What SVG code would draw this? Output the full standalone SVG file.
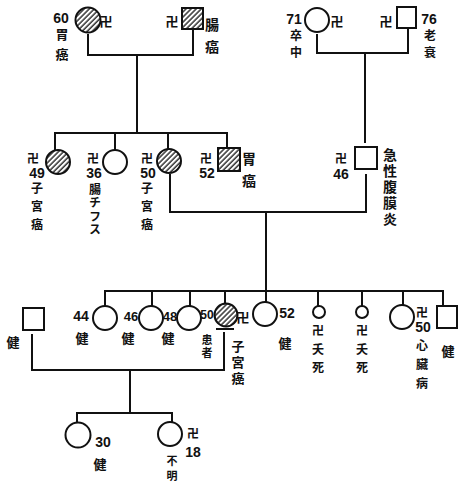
<svg xmlns="http://www.w3.org/2000/svg" width="459" height="485" viewBox="0 0 459 485">
<defs>
<pattern id="hatch" patternUnits="userSpaceOnUse" width="3.6" height="3.6" patternTransform="rotate(45)">
<rect width="3.6" height="3.6" fill="#fff"/>
<line x1="1" y1="0" x2="1" y2="3.6" stroke="#111" stroke-width="1.3"/>
</pattern>
</defs>
<style>
.n{fill:#fff;stroke:#111;stroke-width:2}
.h{fill:url(#hatch);stroke:#111;stroke-width:2}
.c{fill:none;stroke:#111;stroke-width:2;stroke-linecap:square}
text{font-family:"Noto Sans CJK JP","Noto Sans",sans-serif;fill:#111;text-anchor:middle;dominant-baseline:central;font-weight:bold}
.v{writing-mode:vertical-rl;text-anchor:start}
.k{font-size:13px}
.w{font-size:12px}
.d{font-family:"Liberation Sans","DejaVu Sans",sans-serif;font-size:14px}
</style>
<rect width="459" height="485" fill="#fff"/>
<g id="connectors">
<polyline class="c" points="88,35 88,55 193,55 193,30"/>
<line class="c" x1="137" y1="55" x2="137" y2="133"/>
<polyline class="c" points="317,35 317,53 408,53 408,30"/>
<line class="c" x1="365" y1="53" x2="365" y2="142"/>
<line class="c" x1="55" y1="133" x2="227" y2="133"/>
<line class="c" x1="55" y1="133" x2="55" y2="149"/>
<line class="c" x1="115" y1="133" x2="115" y2="149"/>
<line class="c" x1="168" y1="133" x2="168" y2="148"/>
<line class="c" x1="227" y1="133" x2="227" y2="147"/>
<polyline class="c" points="170,175 170,212 366,212 366,175"/>
<line class="c" x1="266" y1="212" x2="266" y2="291"/>
<line class="c" x1="105" y1="291" x2="443" y2="291"/>
<line class="c" x1="105" y1="291" x2="105" y2="305"/>
<line class="c" x1="152" y1="291" x2="152" y2="305"/>
<line class="c" x1="190" y1="291" x2="190" y2="305"/>
<line class="c" x1="225" y1="291" x2="225" y2="303"/>
<line class="c" x1="266" y1="291" x2="266" y2="302"/>
<line class="c" x1="318" y1="291" x2="318" y2="305"/>
<line class="c" x1="362" y1="291" x2="362" y2="305"/>
<line class="c" x1="403" y1="291" x2="403" y2="305"/>
<line class="c" x1="443" y1="291" x2="443" y2="305"/>
<polyline class="c" points="32,335 32,370 224,370 224,333"/>
<line class="c" x1="130" y1="370" x2="130" y2="413"/>
<polyline class="c" points="77,422 77,413 172,413 172,421"/>
</g>
<g id="g1-grandmother-p">
<circle class="h" cx="88" cy="20" r="12.5"/>
<text class="d" x="61" y="18">60</text>
<text class="v k" x="62" y="28" letter-spacing="7">胃癌</text>
<text class="k" x="106" y="20">卍</text>
</g>
<g id="g1-grandfather-p">
<rect class="h" x="182" y="8" width="21" height="21"/>
<text class="k" x="172" y="20">卍</text>
<text class="v" x="212" y="18" style="font-size:14px" letter-spacing="8">腸癌</text>
</g>
<g id="g1-grandmother-m">
<circle class="n" cx="317" cy="20" r="12"/>
<text class="d" x="294" y="19">71</text>
<text class="v w" x="296" y="29" letter-spacing="5">卒中</text>
<text class="k" x="337" y="20">卍</text>
</g>
<g id="g1-grandfather-m">
<rect class="n" x="397" y="7" width="19" height="21"/>
<text class="k" x="386" y="20">卍</text>
<text class="d" x="429" y="19">76</text>
<text class="v w" x="430" y="29" letter-spacing="5">老衰</text>
</g>
<g id="g2-aunt49">
<circle class="h" cx="58" cy="162" r="12"/>
<text class="w" x="33" y="157">卍</text>
<text class="d" x="37" y="173">49</text>
<text class="v w" x="37" y="182" letter-spacing="6">子宮癌</text>
</g>
<g id="g2-aunt36">
<circle class="n" cx="115" cy="162" r="12"/>
<text class="w" x="93" y="157">卍</text>
<text class="d" x="94" y="173">36</text>
<text class="v w" x="95" y="183" letter-spacing="1.5">腸チフス</text>
</g>
<g id="g2-mother50">
<circle class="h" cx="169" cy="161" r="12"/>
<text class="w" x="147" y="157">卍</text>
<text class="d" x="148" y="173">50</text>
<text class="v w" x="147" y="182" letter-spacing="6">子宮癌</text>
</g>
<g id="g2-uncle52">
<rect class="h" x="218" y="148" width="22" height="23"/>
<text class="w" x="206" y="157">卍</text>
<text class="d" x="207" y="173">52</text>
<text class="v" x="249" y="152" style="font-size:14px" letter-spacing="8">胃癌</text>
</g>
<g id="g2-father46">
<rect class="n" x="355" y="147" width="22" height="22"/>
<text class="w" x="341" y="157">卍</text>
<text class="d" x="341" y="174">46</text>
<text class="v" x="390" y="148" style="font-size:14px" letter-spacing="2">急性腹膜炎</text>
</g>
<g id="g3-husband">
<rect class="n" x="23" y="308" width="21" height="22"/>
<text class="k" x="13" y="341">健</text>
</g>
<g id="g3-sib44">
<circle class="n" cx="105" cy="318" r="12"/>
<text class="d" x="81" y="316">44</text>
<text class="k" x="82" y="337">健</text>
</g>
<g id="g3-sib46">
<circle class="n" cx="151" cy="318" r="12"/>
<text class="d" x="131" y="316" style="font-size:13px">46</text>
<text class="k" x="128" y="337">健</text>
</g>
<g id="g3-sib48">
<circle class="n" cx="189" cy="318" r="12"/>
<text class="d" x="170" y="316" style="font-size:13px">48</text>
<text class="k" x="168" y="337">健</text>
</g>
<g id="g3-proband50">
<circle class="h" cx="226" cy="315" r="11.5"/>
<text class="d" x="207" y="315" style="font-size:12px">50</text>
<line class="c" x1="217" y1="329" x2="233" y2="329"/>
<text class="k" x="243" y="316">卍</text>
<text class="v" x="207" y="334" style="font-size:11px" letter-spacing="2">患者</text>
<text class="v k" x="238" y="340" letter-spacing="3">子宮癌</text>
</g>
<g id="g3-sib52">
<circle class="n" cx="265" cy="314" r="12"/>
<text class="d" x="287" y="313">52</text>
<text class="k" x="285" y="342">健</text>
</g>
<g id="g3-infant1">
<circle class="n" cx="319" cy="312" r="6"/>
<text class="w" x="318" y="329">卍</text>
<text class="v w" x="318" y="343" letter-spacing="6">夭死</text>
</g>
<g id="g3-infant2">
<circle class="n" cx="362" cy="312" r="6"/>
<text class="w" x="362" y="329">卍</text>
<text class="v w" x="362" y="343" letter-spacing="6">夭死</text>
</g>
<g id="g3-sib50">
<circle class="n" cx="402" cy="317" r="12"/>
<text class="w" x="422" y="311">卍</text>
<text class="d" x="423" y="327">50</text>
<text class="v w" x="422" y="339" letter-spacing="7">心臟病</text>
</g>
<g id="g3-brother">
<rect class="n" x="437" y="306" width="20" height="22"/>
<text class="k" x="448" y="350">健</text>
</g>
<g id="g4-child30">
<circle class="n" cx="78" cy="435" r="12.5"/>
<text class="d" x="103" y="442">30</text>
<text class="k" x="100" y="463">健</text>
</g>
<g id="g4-child18">
<circle class="n" cx="170" cy="434" r="12"/>
<text class="w" x="193" y="432">卍</text>
<text class="d" x="193" y="452">18</text>
<text class="v" x="172" y="455" style="font-size:11px" letter-spacing="4">不明</text>
</g>
</svg>
